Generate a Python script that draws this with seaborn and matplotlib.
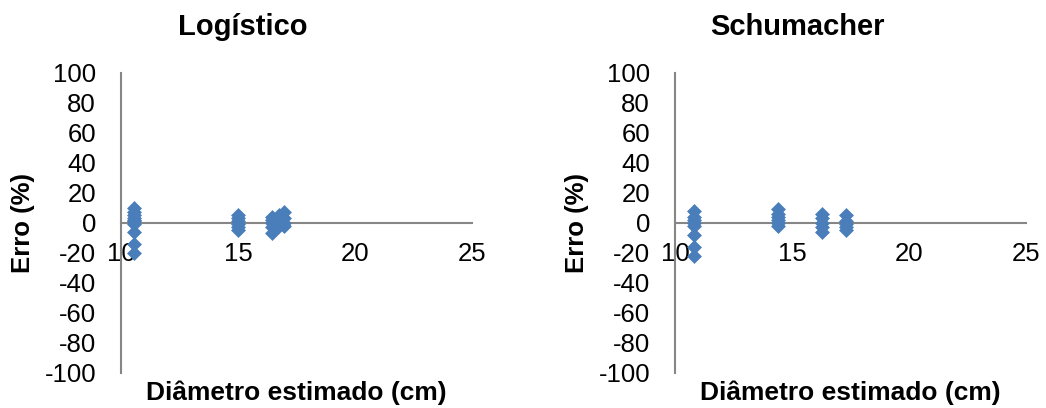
import pandas as pd
import matplotlib.pyplot as plt
import seaborn as sns
import numpy as np

# Data
log_x = [10.55] * 10 + [15.0] * 6 + [16.45] * 5 + [16.75] * 4 + [16.95] * 4
log_y = [10, 7, 5, 3, 2, 1, -1, -6, -14, -20,
         5, 3, 1, -1, -3, -5,
         4, 2, 0, -3, -7,
         5, 2, -1, -2,
         7, 3, 0, -2]

sch_x = [10.8] * 8 + [14.4] * 6 + [16.3] * 5 + [17.3] * 5
sch_y = [8, 4, 2, 0, -2, -8, -16, -22,
         9, 6, 4, 2, 0, -2,
         6, 3, 0, -3, -6,
         5, 1, -1, -3, -5]

titles = ['Logístico', 'Schumacher']
x_ticks = [10, 15, 20, 25]
y_ticks = list(range(-100, 101, 20))

sns.set_style('white')
plt.rcParams['font.family'] = ['Liberation Sans', 'DejaVu Sans']
plt.rcParams['axes.unicode_minus'] = False
plt.rcParams['text.color'] = 'black'
plt.rcParams['axes.labelcolor'] = 'black'

W, H = 1046, 408
fig = plt.figure(figsize=(W / 100, H / 100), dpi=100)
ax1 = fig.add_axes([121 / W, 1 - 373 / H, 351 / W, 300 / H])
ax2 = fig.add_axes([675 / W, 1 - 373 / H, 351 / W, 300 / H])

axis_col = '#868686'
for ax, xs, ys, title in zip([ax1, ax2], [log_x, sch_x], [log_y, sch_y], titles):
    df = pd.DataFrame({'x': xs, 'y': ys})
    sns.scatterplot(data=df, x='x', y='y', ax=ax, marker='D', s=50,
                    color='#4A7EBB', edgecolor='#4A7EBB', linewidth=0.5,
                    zorder=3, clip_on=False)
    ax.set_xlim(10, 25)
    ax.set_ylim(-100, 100)
    ax.set_xticks(x_ticks)
    ax.set_yticks(y_ticks)
    ax.spines['top'].set_visible(False)
    ax.spines['right'].set_visible(False)
    ax.spines['bottom'].set_position(('data', 0))
    ax.spines['bottom'].set_color(axis_col)
    ax.spines['left'].set_color(axis_col)
    ax.spines['bottom'].set_linewidth(1.5)
    ax.spines['left'].set_linewidth(1.5)
    ax.tick_params(axis='both', length=0, labelsize=18.5, colors='black')
    ax.tick_params(axis='x', pad=14)
    ax.tick_params(axis='y', pad=18)
    ax.set_title(title, fontsize=21, fontweight='bold', pad=27, x=0.348)
    ax.set_xlabel('Diâmetro estimado (cm)', fontsize=19, fontweight='bold')
    ax.set_ylabel('Erro (%)', fontsize=18.5, fontweight='bold')
    ax.xaxis.set_label_coords(0.5, -0.025)
    ax.yaxis.set_label_coords(-0.245, 0.5)

plt.savefig('out.png', dpi=100)
plt.close()
